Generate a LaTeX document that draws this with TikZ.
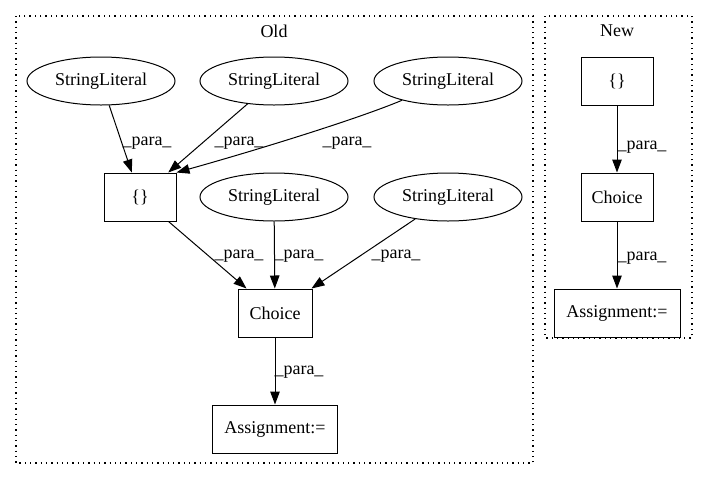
\documentclass[tikz,border=0pt]{standalone}
\usepackage{fontspec}
\setmainfont{Liberation Serif}
\usetikzlibrary{arrows.meta,shapes.geometric}
\tikzset{
  every node/.style={font=\fontsize{18}{21}\selectfont},
  lit/.style={draw, ellipse, line width=1pt, minimum width=148pt, minimum height=48pt, inner sep=0pt},
  box/.style={draw, rectangle, line width=1pt, minimum height=48pt, inner sep=0pt},
  lbl/.style={inner sep=0pt},
  arr/.style={line width=1pt, -{Triangle[length=13pt,width=9.5pt]}},
  cluster/.style={line width=1.1pt, dash pattern=on 1.3pt off 4pt}
}
\begin{document}
\begin{tikzpicture}[x=1pt,y=-1pt]
\useasboundingbox (0,0) rectangle (707,480);
% clusters
\draw[cluster] (16,16) rectangle (533,463);
\draw[cluster] (545,16) rectangle (692,338);
\node[lbl] (oldlbl) at (274,31) {Old};
\node[lbl] (newlbl) at (617,31) {New};
% Old nodes
\node[lit] (sl1) at (101,81) {StringLiteral};
\node[lit] (sl2) at (274,81) {StringLiteral};
\node[lit] (sl3) at (448,81) {StringLiteral};
\node[box, minimum width=72pt] (br) at (140,197) {\{\}};
\node[lit] (sl4) at (274,197) {StringLiteral};
\node[lit] (sl5) at (448,197) {StringLiteral};
\node[box, minimum width=74pt] (ch) at (275,313) {Choice};
\node[box, minimum width=125pt] (as) at (275,429) {Assignment:=};
% Old edges
\draw[arr] (sl1) -- (br);
\draw[arr] (sl2) -- (br);
\draw[arr] (sl3) .. controls (355,120) and (250,152) .. (br.north east);
\draw[arr] (br) -- (ch);
\draw[arr] (sl4) -- (ch);
\draw[arr] (sl5) -- (ch);
\draw[arr] (ch) -- (as);
% Old labels
\node[lbl] (l1) at (147,143) {\_para\_};
\node[lbl] (l2) at (239,143) {\_para\_};
\node[lbl] (l3) at (347,143) {\_para\_};
\node[lbl] (l4) at (239,256) {\_para\_};
\node[lbl] (l5) at (299,256) {\_para\_};
\node[lbl] (l6) at (396,256) {\_para\_};
\node[lbl] (l7) at (299,372) {\_para\_};
% New nodes
\node[box, minimum width=72pt] (nbr) at (617,81) {\{\}};
\node[box, minimum width=72pt] (nch) at (617,197) {Choice};
\node[box, minimum width=126pt] (nas) at (617,313) {Assignment:=};
\draw[arr] (nbr) -- (nch);
\draw[arr] (nch) -- (nas);
\node[lbl] (nl1) at (642,147) {\_para\_};
\node[lbl] (nl2) at (642,258) {\_para\_};
\end{tikzpicture}
\end{document}
